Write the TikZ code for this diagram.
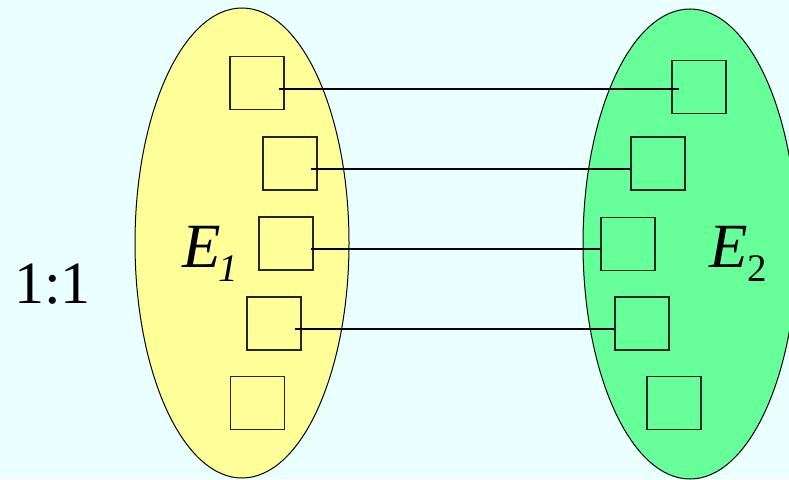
\documentclass[tikz,border=0pt]{standalone}
\usepackage{fontspec}
\setmainfont{Liberation Serif}
\definecolor{bgc}{HTML}{EAFFFF}
\definecolor{yel}{HTML}{FFFF99}
\definecolor{grn}{HTML}{66FF99}
\begin{document}
\begin{tikzpicture}[x=1pt,y=-1pt,
  setbox/.style={draw=black!85, line width=1.1pt, minimum width=54pt, minimum height=53pt, inner sep=0pt},
  link/.style={line width=1.3pt},
  setoval/.style={draw=black, line width=1pt},
  lab/.style={anchor=base west, inner sep=0pt}]
\useasboundingbox (0,0) rectangle (789,479);
\fill[bgc] (0,0) rectangle (789,479);
\begin{scope}
\clip (0,0) rectangle (789,479);
\draw[setoval, fill=yel] (242,243) ellipse [x radius=107pt, y radius=235pt];
\draw[setoval, fill=grn] (690,244) ellipse [x radius=107pt, y radius=235pt];
\end{scope}
% left boxes
\node[setbox] (a1) at (257,83) {};
\node[setbox] (a2) at (290,163.5) {};
\node[setbox] (a3) at (286,243.5) {};
\node[setbox] (a4) at (274,323.5) {};
\node[setbox] (a5) at (257.5,403) {};
% right boxes
\node[setbox] (b1) at (699,87) {};
\node[setbox] (b2) at (658,163.5) {};
\node[setbox] (b3) at (628,244) {};
\node[setbox] (b4) at (642,323.5) {};
\node[setbox] (b5) at (674,403) {};
% connector end points
\coordinate (p1) at (279,89);
\coordinate (q1) at (679,89);
\coordinate (p2) at (311,169);
\coordinate (p3) at (311,249);
\coordinate (p4) at (295,329);
\draw[link] (p1) -- (q1);
\draw[link] (p2) -- (b2.west |- p2);
\draw[link] (p3) -- (b3.west |- p3);
\draw[link] (p4) -- (b4.west |- p4);
% labels
\node[lab] (r) at (14,303) {\fontsize{60}{60}\selectfont 1:1};
\node[lab] (e1) at (182,267) {\fontsize{63}{63}\selectfont\itshape E};
\node[lab] (s1) at (218,281) {\fontsize{39}{39}\selectfont\itshape 1};
\node[lab] (e2) at (709,267) {\fontsize{63}{63}\selectfont\itshape E};
\node[lab] (s2) at (747,281) {\fontsize{39}{39}\selectfont 2};
\end{tikzpicture}
\end{document}
